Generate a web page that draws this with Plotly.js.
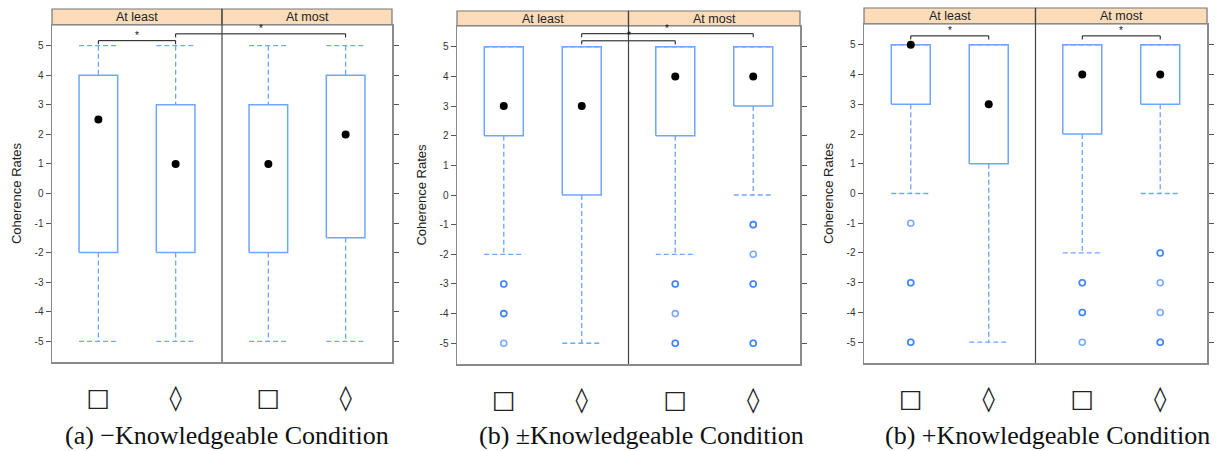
<!DOCTYPE html>
<html>
<head>
<meta charset="utf-8">
<script src="https://cdn.plot.ly/plotly-3.0.1.min.js"></script>
<style>html,body{margin:0;padding:0;background:#fff;}#chart{width:1220px;height:451px;}</style>
</head>
<body>
<div id="chart"></div>
<script>
// ---------- DATA ----------
const captions = ['(a) \u2212Knowledgeable Condition', '(b) \u00B1Knowledgeable Condition', '(b) +Knowledgeable Condition'];
const groups = ['At least', 'At most'];
const levels = ['\u25A1', '\u25CA'];
const yTicks = [-5, -4, -3, -2, -1, 0, 1, 2, 3, 4, 5];
const yTitle = 'Coherence Rates';

// order of boxes in every panel: At least/□, At least/◊, At most/□, At most/◊
const q1A  = [-2, -2, -2, -1.5];
const medA = [2.5, 1, 1, 2];
const q3A  = [4, 3, 3, 4];
const loA  = [-5, -5, -5, -5];
const hiA  = [5, 5, 5, 5];
const outA = [[], [], [], []];
const sigA = [[0, 1, 5.17], [1, 3, 5.4]];

const q1B  = [2, 0, 2, 3];
const medB = [3, 3, 4, 4];
const q3B  = [5, 5, 5, 5];
const loB  = [-2, -5, -2, 0];
const hiB  = [5, 5, 5, 5];
const outB = [[-3, -3, -4, -4, -5], [], [-3, -3, -4, -5, -5], [-1, -1, -2, -3, -3, -5, -5]];
const sigB = [[1, 2, 5.2], [1, 3, 5.44]];

const q1C  = [3, 1, 2, 3];
const medC = [5, 3, 4, 4];
const q3C  = [5, 5, 5, 5];
const loC  = [0, -5, -2, 0];
const hiC  = [5, 5, 5, 5];
const outC = [[-1, -3, -3, -5, -5], [], [-3, -3, -4, -4, -5], [-2, -2, -3, -4, -5, -5]];
const sigC = [[0, 1, 5.3], [2, 3, 5.3]];

const panelData = [
  {q1: q1A, med: medA, q3: q3A, lo: loA, hi: hiA, out: outA, sig: sigA},
  {q1: q1B, med: medB, q3: q3B, lo: loB, hi: hiB, out: outB, sig: sigB},
  {q1: q1C, med: medC, q3: q3C, lo: loC, hi: hiC, out: outC, sig: sigC}
];

// ---------- LAYOUT GEOMETRY (pixels) ----------
const W = 1220, H = 451;
const geo = [
  {x0: 52,  x1: 392,  top: 25, bot: 362, stripTop: 9,  capX: 227},
  {x0: 457, x1: 800,  top: 26, bot: 364, stripTop: 11, capX: 641},
  {x0: 864, x1: 1207, top: 24, bot: 363, stripTop: 8,  capX: 1047}
];
const halfW = 2.2;           // each strip half spans 2.2 units (lattice padding)
const boxW = 0.5;
const boxCol = '#6fa6ff';
const ptCol = 'rgba(30,110,255,0.6)';
const frameCol = '#8a8a8a';

function xPos(k) { const g = Math.floor(k / levels.length), i = k % levels.length; return g * halfW + 0.6 + i; }

const traces = [];
const shapes = [];
const annotations = [];
const layout = {
  width: W, height: H,
  margin: {l: 0, r: 0, t: 0, b: 0},
  paper_bgcolor: '#fff', plot_bgcolor: '#fff',
  showlegend: false,
  font: {family: 'Liberation Sans, Arial, sans-serif', color: '#333'},
  hovermode: false
};

panelData.forEach((d, p) => {
  const s = p === 0 ? '' : String(p + 1);
  const xa = 'x' + s, ya = 'y' + s;
  const g = geo[p];
  const nBox = d.q1.length;
  const xs = [], wx = [], wy = [], bx = [], by = [], ox = [], oy = [];
  for (let k = 0; k < nBox; k++) {
    const c = xPos(k); xs.push(c);
    wx.push(c, c, null, c, c, null, c - boxW / 2, c + boxW / 2, null, c - boxW / 2, c + boxW / 2, null);
    wy.push(d.hi[k], d.q3[k], null, d.q1[k], d.lo[k], null, d.hi[k], d.hi[k], null, d.lo[k], d.lo[k], null);
    bx.push(c - boxW / 2, c + boxW / 2, c + boxW / 2, c - boxW / 2, c - boxW / 2, null);
    by.push(d.q1[k], d.q1[k], d.q3[k], d.q3[k], d.q1[k], null);
    d.out[k].forEach(v => { ox.push(c); oy.push(v); });
  }
  traces.push({type: 'scatter', mode: 'lines', xaxis: xa, yaxis: ya, x: wx, y: wy,
    line: {color: boxCol, width: 1.3, dash: '5px,3px'}});
  traces.push({type: 'scatter', mode: 'lines', xaxis: xa, yaxis: ya, x: bx, y: by,
    line: {color: boxCol, width: 1.5}});
  traces.push({type: 'scatter', mode: 'markers', xaxis: xa, yaxis: ya, x: ox, y: oy,
    marker: {symbol: 'circle-open', size: 6, color: ptCol, line: {width: 1.6, color: ptCol}}});
  traces.push({type: 'scatter', mode: 'markers', xaxis: xa, yaxis: ya, x: xs, y: d.med,
    marker: {symbol: 'circle', size: 8, color: '#000'}});
  d.sig.forEach(sg => {
    const a = xPos(sg[0]), b = xPos(sg[1]), yv = sg[2];
    traces.push({type: 'scatter', mode: 'lines', xaxis: xa, yaxis: ya,
      x: [a, a, b, b], y: [yv - 0.12, yv, yv, yv - 0.12], line: {color: '#111', width: 1}});
    annotations.push({xref: xa, yref: ya, x: (a + b) / 2, y: yv, text: '*', showarrow: false,
      yanchor: 'bottom', yshift: -2, font: {size: 10, color: '#111'}});
  });

  const dx0 = g.x0 / W, dx1 = g.x1 / W;
  const dy0 = (H - g.bot) / H, dy1 = (H - g.top) / H;
  layout['xaxis' + s] = {
    domain: [dx0, dx1], range: [0, groups.length * halfW], anchor: ya,
    tickvals: xs, ticktext: xs.map((_, k) => levels[k % levels.length]),
    ticks: '', showgrid: false, zeroline: false,
    showline: true, mirror: true, linecolor: frameCol, linewidth: 1.5,
    tickfont: {family: 'DejaVu Sans', size: 25, color: '#222'},
    ticklabelstandoff: 12, fixedrange: true
  };
  layout['yaxis' + s] = {
    domain: [dy0, dy1], range: [-5.7, 5.7], anchor: xa,
    tickvals: yTicks, ticktext: yTicks.map(String),
    ticks: 'outside', ticklen: 5, tickcolor: '#555', tickwidth: 1,
    showgrid: false, zeroline: false,
    showline: true, mirror: 'ticks', linecolor: frameCol, linewidth: 1.5,
    tickfont: {size: 10, color: '#333'},
    title: {text: yTitle, font: {size: 13, color: '#222'}, standoff: 10},
    fixedrange: true
  };
  shapes.push({type: 'line', xref: xa, yref: 'paper', x0: halfW, x1: halfW, y0: dy0, y1: (H - g.stripTop) / H,
    line: {color: '#444', width: 1.2}});
  groups.forEach((gr, gi) => {
    const sx0 = g.x0 + (g.x1 - g.x0) * gi / groups.length;
    const sx1 = g.x0 + (g.x1 - g.x0) * (gi + 1) / groups.length;
    shapes.push({type: 'rect', xref: 'paper', yref: 'paper', x0: sx0 / W, x1: sx1 / W,
      y0: (H - g.top) / H, y1: (H - g.stripTop) / H,
      fillcolor: '#fcdcb9', line: {color: '#777', width: 1.2}, layer: 'below'});
    annotations.push({xref: 'paper', yref: 'paper', x: (sx0 + sx1) / 2 / W, y: (H - (g.top + g.stripTop) / 2) / H,
      text: gr, showarrow: false, xanchor: 'center', yanchor: 'middle',
      font: {size: 12.5, color: '#222'}});
  });
  annotations.push({xref: 'paper', yref: 'paper', x: g.capX / W, y: (H - 435) / H, text: captions[p],
    showarrow: false, xanchor: 'center', yanchor: 'middle',
    font: {family: 'Liberation Serif, Times New Roman, serif', size: 26, color: '#111'}});
});

layout.shapes = shapes;
layout.annotations = annotations;
Plotly.newPlot('chart', traces, layout, {displayModeBar: false, staticPlot: true});
</script>
</body>
</html>
